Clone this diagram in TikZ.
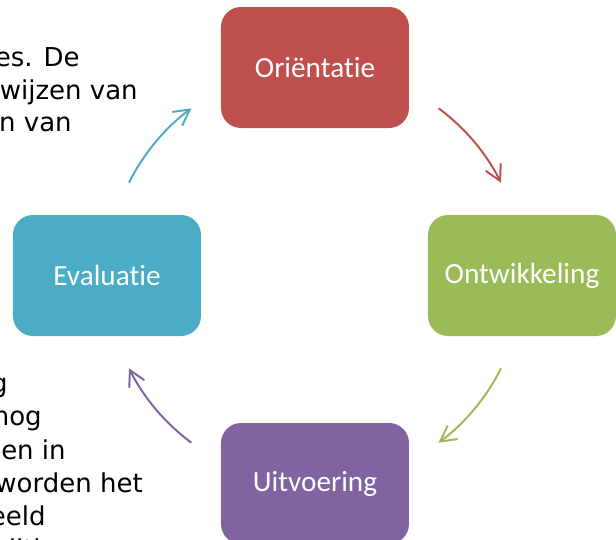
\documentclass[tikz,border=0pt]{standalone}
\usepackage{fontspec}
\setmainfont{Carlito}[Ligatures=NoCommon]
\newfontfamily\docfont{DejaVu Sans}
\usepackage{tikz}
\usetikzlibrary{arrows.meta, backgrounds, positioning}
\pgfdeclarelayer{edgelayer}
\pgfdeclarelayer{nodelayer}
\pgfsetlayers{nodelayer,main,edgelayer}
\definecolor{orired}{HTML}{C0504D}
\definecolor{ontgreen}{HTML}{9BBB59}
\definecolor{uitpurple}{HTML}{8064A2}
\definecolor{evalteal}{HTML}{4BACC6}

\begin{document}
\begin{tikzpicture}[
	stage/.style={rectangle, rounded corners=0.5cm, minimum width=4.7cm, minimum height=3.025cm, text=white, font={\fontsize{20.8}{24}\selectfont}},
	doctext/.style={anchor=base east, inner sep=0pt, font={\docfont\fontsize{18.5}{22}\selectfont}},
	pijl/.style={->, line width=1.4pt, looseness=0.86},
	>={Straight Barb[length=11pt, width=12pt]}]
	\useasboundingbox (-7.875, -6.6125) rectangle (7.525, 6.8875);
	\begin{pgfonlayer}{nodelayer}
		\node [doctext] (0) at (-5.875, 5.2375) {es. De};
		\node [doctext] (1) at (-4.425, 4.4125) {wijzen van};
		\node [doctext] (2) at (-6.075, 3.6125) {n van};
		\node [doctext] (3) at (-7.675, -2.9125) {g};
		\node [doctext] (4) at (-6.825, -3.7375) {nog};
		\node [doctext] (5) at (-6.225, -4.5875) {en in};
		\node [doctext] (6) at (-4.3, -5.4125) {worden het};
		\node [doctext] (7) at (-6.725, -6.2375) {eeld};
		\node [doctext] (8) at (-6.45, -7.0625) {ditie};
		\node [stage, fill=orired] (9) at (0, 5.2) {Oriëntatie};
		\node [stage, fill=ontgreen] (10) at (5.175, 0) {Ontwikkeling};
		\node [stage, fill=uitpurple] (11) at (0, -5.2) {Uitvoering};
		\node [stage, fill=evalteal] (12) at (-5.2, 0) {Evaluatie};
		\node [] (13) at (3.09, 4.18) {};
		\node [] (14) at (4.65, 2.32) {};
		\node [] (15) at (4.65, -2.32) {};
		\node [] (16) at (3.09, -4.18) {};
		\node [] (17) at (-3.09, -4.18) {};
		\node [] (18) at (-4.65, -2.32) {};
		\node [] (19) at (-4.65, 2.32) {};
		\node [] (20) at (-3.09, 4.18) {};
	\end{pgfonlayer}
	\begin{pgfonlayer}{edgelayer}
		\draw [pijl, orired, out=-36.5, in=116.5] (13.center) to (14.center);
		\draw [pijl, ontgreen, out=-116.5, in=36.5] (15.center) to (16.center);
		\draw [pijl, uitpurple, out=143.5, in=-63.5] (17.center) to (18.center);
		\draw [pijl, evalteal, out=63.5, in=-143.5] (19.center) to (20.center);
	\end{pgfonlayer}
\end{tikzpicture}
\end{document}
